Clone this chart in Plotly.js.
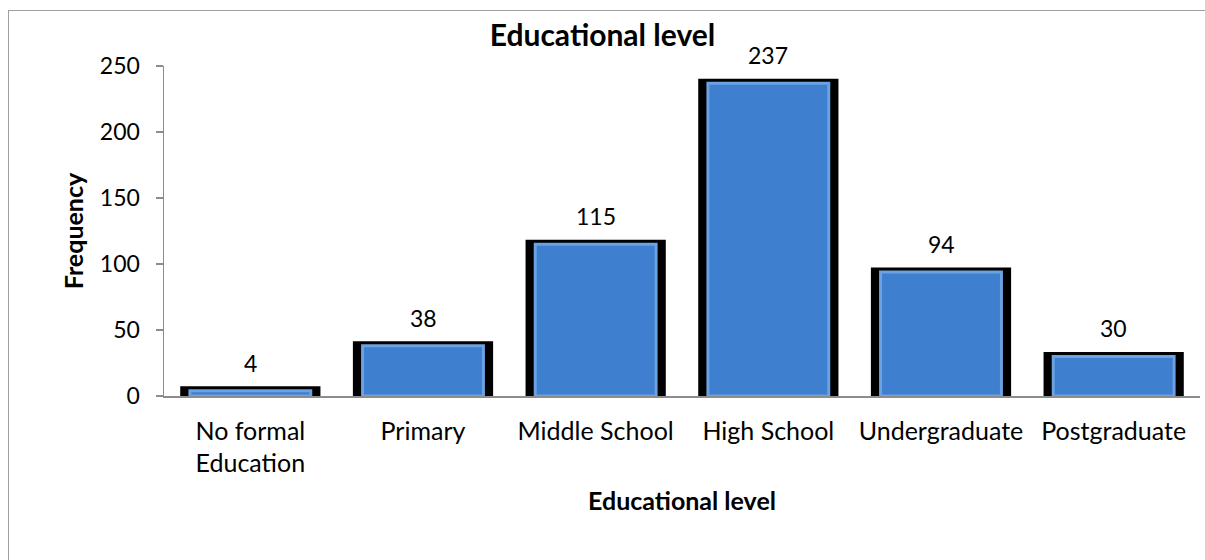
<!DOCTYPE html>
<html>
<head>
<meta charset="utf-8">
<script src="https://cdn.plot.ly/plotly-3.0.1.min.js"></script>
<style>
html,body{margin:0;padding:0;background:#fff;overflow:hidden;}
#frame{position:absolute;left:8px;top:10px;width:1300px;height:700px;border:1px solid #a0a0a0;pointer-events:none;z-index:5;}
#chart{position:absolute;left:0;top:0;width:1205px;height:560px;}
</style>
</head>
<body>
<div id="chart"></div>
<div id="frame"></div>
<script>
const categories = ["No formal<br>Education", "Primary", "Middle School", "High School", "Undergraduate", "Postgraduate"];
const values = [4, 38, 115, 237, 94, 30];
const yTicks = [0, 50, 100, 150, 200, 250];

const FONT = "Lato, 'Open Sans', sans-serif";

const shadow = {
  type: "bar", x: categories, y: values, width: 0.76,
  marker: {color: "#000000", line: {color: "#000000", width: 9}},
  hoverinfo: "none", showlegend: false
};
const bars = {
  type: "bar", x: categories, y: values, width: 0.70,
  marker: {color: "#3e7fcf", line: {color: "#6aa2e2", width: 3}},
  hoverinfo: "none", showlegend: false
};

const annotations = categories.map((c, i) => ({
  x: c, y: values[i], xref: "x", yref: "y",
  text: String(values[i]), showarrow: false,
  yanchor: "bottom", yshift: 12,
  font: {family: FONT, size: 23, color: "#000"}
}));

const layout = {
  width: 1205, height: 560,
  margin: {l: 164, r: 5, t: 66, b: 164},
  paper_bgcolor: "#ffffff", plot_bgcolor: "#ffffff",
  barmode: "overlay",
  font: {family: FONT, size: 23, color: "#000"},
  title: {
    text: "<b>Educational level</b>",
    x: 0.5, xref: "container", xanchor: "center",
    y: 1 - 35/560, yref: "container", yanchor: "middle",
    font: {family: FONT, size: 30, color: "#000"}
  },
  xaxis: {
    type: "category",
    showline: true, linecolor: "#8c8c8c", linewidth: 1.5,
    ticks: "", showgrid: false, zeroline: false,
    ticklabelstandoff: 12,
    tickfont: {family: FONT, size: 25, color: "#000"},
    title: {text: "<b>Educational level</b>", font: {family: FONT, size: 25, color: "#000"}, standoff: 16}
  },
  yaxis: {
    range: [0, 250], tickvals: yTicks,
    showline: true, linecolor: "#8c8c8c", linewidth: 1.5,
    ticks: "outside", ticklen: 7, tickcolor: "#8c8c8c", tickwidth: 1.5,
    showgrid: false, zeroline: false,
    ticklabelstandoff: 11,
    tickfont: {family: FONT, size: 23, color: "#000"},
    title: {text: "<b>Frequency</b>", font: {family: FONT, size: 25, color: "#000"}, standoff: 9}
  },
  annotations: annotations
};

Plotly.newPlot("chart", [shadow, bars], layout, {displayModeBar: false, staticPlot: true});
</script>
</body>
</html>
